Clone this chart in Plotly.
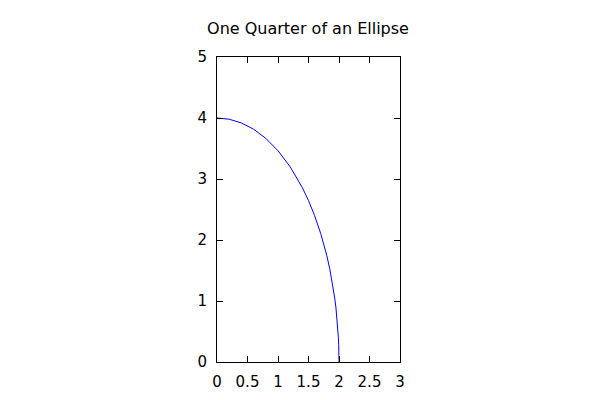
import plotly.graph_objects as go

x_vals = [0.0, 0.2, 0.4, 0.6, 0.8, 1.0, 1.2, 1.4, 1.5, 1.6, 1.7, 1.75, 1.8, 1.85, 1.9, 1.93, 1.95, 1.97, 1.98, 1.99, 1.995, 1.999, 2.0]
y_vals = [4.0, 3.980, 3.919, 3.816, 3.666, 3.464, 3.2, 2.857, 2.646, 2.4, 2.107, 1.936, 1.744, 1.520, 1.249, 1.048, 0.889, 0.689, 0.564, 0.400, 0.283, 0.126, 0.0]

x_ticks = [0, 0.5, 1, 1.5, 2, 2.5, 3]
x_labels = ["0", "0.5", "1", "1.5", "2", "2.5", "3"]
y_ticks = [0, 1, 2, 3, 4, 5]

fig = go.Figure()
fig.add_trace(go.Scatter(x=x_vals, y=y_vals, mode="lines",
                         line=dict(color="#0000ff", width=1), showlegend=False,
                         hoverinfo="skip"))

font = dict(family="DejaVu Sans", size=15, color="black")
fig.update_layout(
    width=600, height=400,
    margin=dict(l=209, r=208, t=49, b=46),
    paper_bgcolor="white", plot_bgcolor="white",
    title=dict(text="One Quarter of an Ellipse", x=0.5, xanchor="center",
               y=1 - 20/400, yanchor="middle",
               font=dict(family="DejaVu Sans", size=16, color="black")),
    font=font,
)
fig.update_xaxes(range=[0, 3], tickvals=x_ticks, ticktext=x_labels,
                 showgrid=False, zeroline=False, showline=True, linecolor="black",
                 linewidth=1, mirror="allticks", ticks="inside", ticklen=6,
                 tickcolor="black", tickfont=font, ticklabelstandoff=6)
fig.update_yaxes(range=[0, 5], tickvals=y_ticks,
                 showgrid=False, zeroline=False, showline=True, linecolor="black",
                 linewidth=1, mirror="allticks", ticks="inside", ticklen=6,
                 tickcolor="black", tickfont=font, ticklabelstandoff=6)

fig.write_html("out.html")
